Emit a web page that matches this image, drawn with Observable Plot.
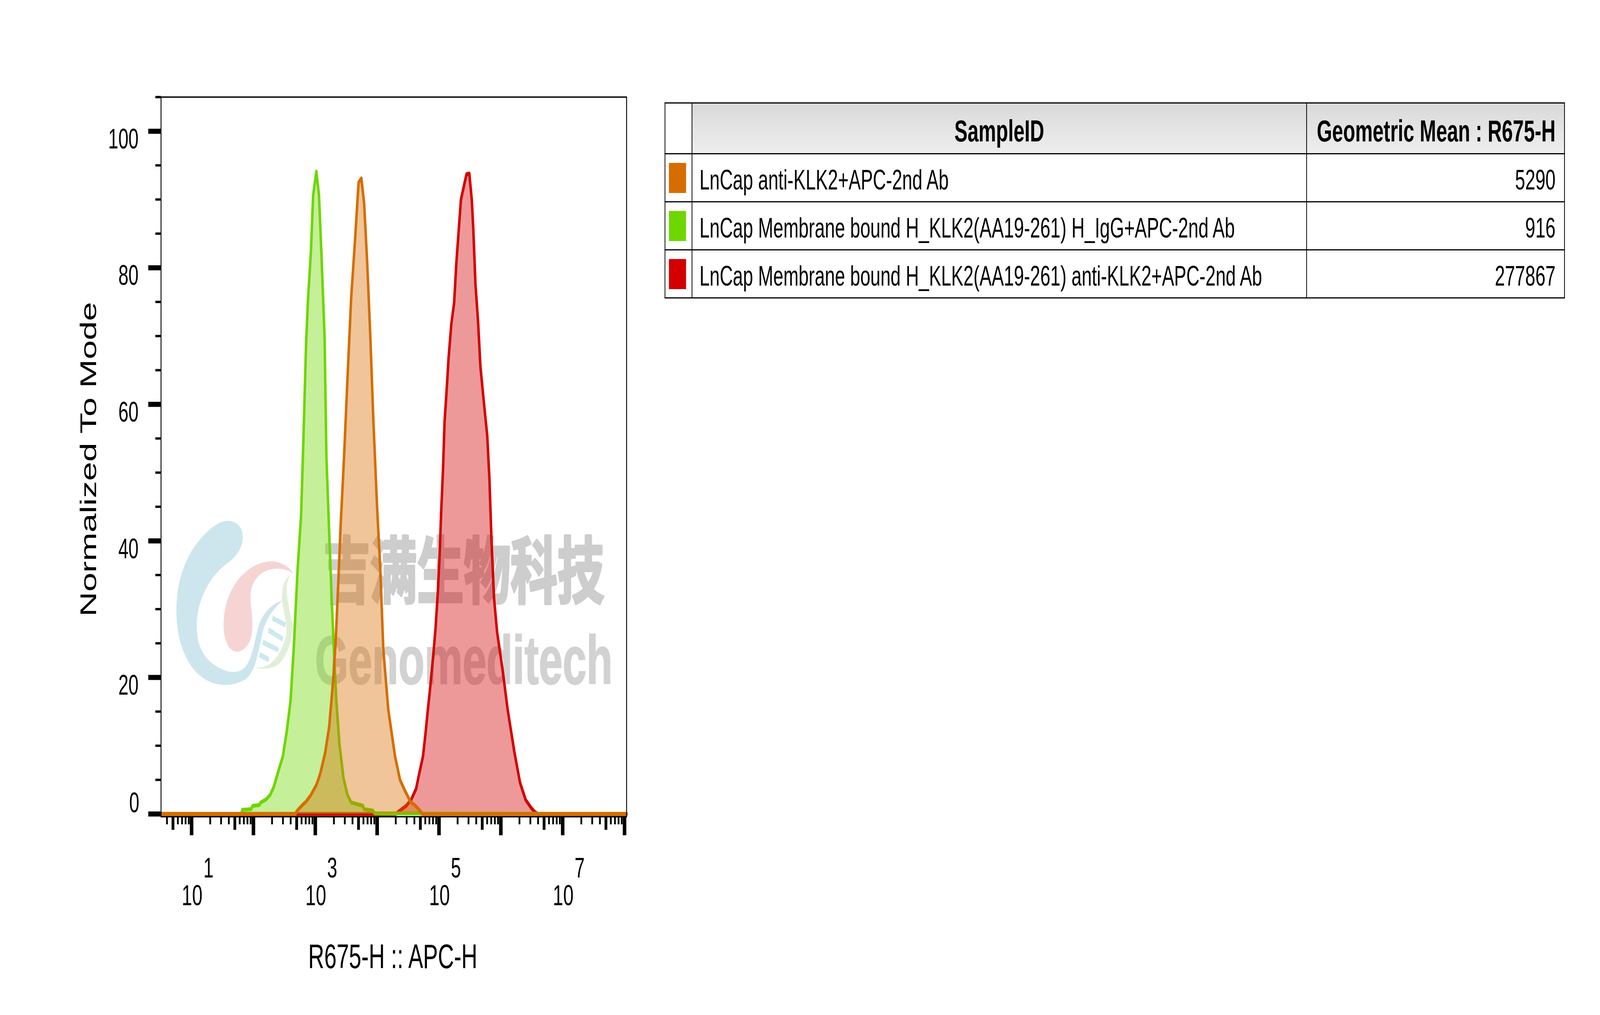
<!DOCTYPE html>
<html><head><meta charset="utf-8">
<script src="https://cdn.jsdelivr.net/npm/d3@7"></script>
<script src="https://cdn.jsdelivr.net/npm/@observablehq/plot@0.6"></script>
<style>
html,body{margin:0;padding:0;background:#fff;overflow:hidden;}
#root{position:absolute;left:0;top:0;width:6334px;height:2598px;overflow:hidden;background:#fff;font-family:"Liberation Sans",Arial,Helvetica,sans-serif;transform-origin:0 0;}
#wm{position:absolute;left:0;top:0;}
#chart{position:absolute;left:0;top:0;}
#chart svg{background:transparent;overflow:visible;}
#tbl{position:absolute;left:2631px;top:262px;border-collapse:collapse;table-layout:fixed;width:3561px;color:#000;}
#tbl th,#tbl td{border:3.5px solid #000;padding:0;}
#tbl thead tr{height:130px;}
#tbl tbody tr{height:123px;}
#tbl th{font-weight:bold;font-size:78px;background:linear-gradient(to bottom,#d9d9d9,#eeeeee);padding-top:14px;}
#tbl th.sw{background:#fff;}
#tbl th.gm{text-align:right;padding-right:34px;white-space:nowrap;}
#tbl td{font-size:72px;padding-top:10px;white-space:nowrap;}
#tbl td.sw{padding:0 0 0 14px;}
#tbl td.sid{padding-left:28px;}
#tbl td.gm{text-align:right;padding-right:34px;}
.swatch{width:68px;height:77px;}
</style>
</head><body>
<div id="root">
<svg id="wm" width="2600" height="2598" viewBox="0 0 2600 2598">
  <g transform="translate(680,1300) scale(0.3333)">
    <path fill="#cde6ee" d="M 660,100 C 760,95 850,150 843,230 C 835,320 760,380 650,430 C 430,540 300,720 297,900 C 295,1080 400,1180 600,1240 C 700,1270 800,1265 860,1230 C 940,1180 980,1050 1010,960 C 1060,810 1180,740 1315,710 C 1200,780 1110,860 1075,970 C 1020,1130 990,1260 880,1315 C 800,1345 720,1360 630,1360 C 300,1360 60,1130 55,800 C 50,560 170,380 300,270 C 420,170 560,100 660,100 Z"/>
    <path fill="#f6d4d4" d="M 1450,505 C 1350,460 1150,440 1020,530 C 920,600 930,690 945,780 C 965,900 970,1010 880,1070 C 820,1110 740,1120 680,1070 C 620,1010 610,930 617,860 C 630,700 740,560 900,480 C 1100,380 1320,390 1450,505 Z"/>
    <path fill="#e2efd8" d="M 1450,505 C 1380,520 1350,580 1375,700 C 1400,820 1430,850 1430,920 C 1430,1040 1360,1130 1300,1180 C 1230,1235 1130,1240 990,1230 C 1120,1225 1200,1200 1280,1110 C 1350,1030 1380,960 1350,850 C 1320,760 1300,700 1312,640 C 1325,560 1380,520 1450,505 Z"/>
    <path fill="#cce9f0" d="M1200,828 L1358,880 L1345,918 L1188,864 Z M1155,918 L1326,990 L1312,1026 L1141,956 Z M1087,1012 L1272,1074 L1260,1110 L1075,1050 Z M1047,1108 L1160,1146 L1148,1185 L1035,1146 Z"/>
  </g>
  <text x="1280" y="1529" font-family="Noto Sans CJK SC" font-weight="bold" font-size="185" fill="#cdcdcd" stroke="#cdcdcd" stroke-width="7" stroke-linejoin="round" textLength="1112" lengthAdjust="spacingAndGlyphs">吉满生物科技</text>
  <text x="1247" y="1750" font-family="Liberation Sans, Arial" font-weight="bold" font-size="175" fill="#d2d2d2" stroke="#d2d2d2" stroke-width="3" textLength="1178" lengthAdjust="spacingAndGlyphs">Genomeditech</text>
</svg>
<div id="chart"></div>
<table id="tbl"></table>
</div>
<script>
// ---------- data ----------
const sampleIds = [
  "LnCap anti-KLK2+APC-2nd Ab",
  "LnCap Membrane bound H_KLK2(AA19-261) H_IgG+APC-2nd Ab",
  "LnCap Membrane bound H_KLK2(AA19-261) anti-KLK2+APC-2nd Ab"
];
const geoMeans = [5290, 916, 277867];
const seriesColors = ["#d66d00", "#6ed600", "#d40000"];
const tableHeaders = ["SampleID", "Geometric Mean : R675-H"];

// log10(R675-H) positions and "Normalized To Mode" values
const orangeLog = [0.506, 2.68, 2.70, 2.78, 2.85, 2.93, 3.02, 3.08, 3.16, 3.225, 3.29, 3.33, 3.37, 3.41, 3.465, 3.52, 3.58, 3.64, 3.70, 3.745, 3.79, 3.84, 3.89, 3.94, 4.00, 4.05, 4.10, 4.18, 4.29, 4.37, 4.45, 4.54, 4.62, 4.70, 4.73, 8.033];
const orangeY   = [0, 0, 0.4, 1.2, 1.8, 2.8, 4.3, 5.9, 9.0, 12.8, 19.7, 25.4, 33.5, 42.3, 52.3, 63.7, 75.6, 83.7, 92.5, 93.1, 89.4, 80.6, 69.9, 57.4, 44.8, 36.0, 24.1, 15.3, 8.4, 5.0, 3.4, 1.8, 1.2, 0.4, 0, 0];

const greenLog = [0.506, 1.80, 1.82, 1.96, 1.99, 2.09, 2.12, 2.20, 2.27, 2.33, 2.41, 2.475, 2.54, 2.60, 2.65, 2.715, 2.77, 2.81, 2.85, 2.88, 2.93, 2.965, 3.017, 3.06, 3.10, 3.15, 3.18, 3.225, 3.27, 3.31, 3.34, 3.39, 3.455, 3.52, 3.58, 3.77, 3.79, 3.93, 3.96, 8.033];
const greenY   = [0, 0, 0.6, 0.7, 1.2, 1.3, 1.7, 2.1, 2.8, 4.0, 6.5, 8.4, 12.2, 16.6, 24.0, 36.0, 43.6, 55.5, 68.6, 75.0, 82.5, 90.6, 94.1, 90.6, 81.9, 69.9, 52.3, 41.1, 30.4, 22.2, 16.6, 10.3, 5.3, 2.8, 1.7, 1.2, 0.7, 0.5, 0.1, 0];

const redLog = [0.506, 4.30, 4.34, 4.47, 4.55, 4.63, 4.68, 4.74, 4.78, 4.82, 4.85, 4.91, 4.945, 4.98, 5.01, 5.035, 5.065, 5.09, 5.13, 5.155, 5.20, 5.245, 5.28, 5.33, 5.355, 5.445, 5.49, 5.53, 5.555, 5.59, 5.63, 5.67, 5.73, 5.78, 5.815, 5.85, 5.89, 5.94, 6.03, 6.11, 6.22, 6.31, 6.40, 6.49, 6.55, 6.60, 8.033];
const redY   = [0, 0, 0.3, 1.2, 2.1, 3.7, 5.9, 8.4, 11.6, 15.3, 17.8, 23.5, 27.3, 32.3, 37.9, 44.2, 50.5, 57.4, 63.0, 66.8, 71.8, 74.9, 80.6, 86.9, 90.0, 93.7, 93.8, 90.0, 85.6, 77.5, 72.4, 65.5, 59.9, 55.4, 49.2, 39.8, 31.6, 26.6, 21.0, 15.3, 9.0, 4.6, 2.1, 0.9, 0.3, 0, 0];

const xDomainLog = [0.506, 8.033];
const yDomain = [-0.4, 105];
const yMajorTicks = [20, 40, 60, 80, 100];
const yZeroTick = [0];
const yMinorTicks = [5, 10, 15, 25, 30, 35, 45, 50, 55, 65, 70, 75, 85, 90, 95, 105];
const xLabelExps = [1, 3, 5, 7];
const xTitle = "R675-H :: APC-H";
const yTitle = "Normalized To Mode";

// ---------- build ----------
const toRows = (logs, ys) => logs.map((e, i) => ({x: Math.pow(10, e), y: ys[i]}));
const orange = toRows(orangeLog, orangeY);
const green = toRows(greenLog, greenY);
const red = toRows(redLog, redY);

const xMin = Math.pow(10, xDomainLog[0]), xMax = Math.pow(10, xDomainLog[1]);
const xMajor = [], xMid = [], xMinor = [];
for (let n = 0; n <= 8; n++) {
  for (let k = 1; k <= 9; k++) {
    const v = k * Math.pow(10, n);
    if (v < xMin || v > xMax * 1.0001) continue;
    if (k === 1) xMajor.push(v); else if (k === 5) xMid.push(v); else xMinor.push(v);
  }
}

const seriesMarks = (rows, color) => [
  Plot.areaY(rows, {x: "x", y: "y", fill: color, fillOpacity: 0.4, curve: "linear"}),
  Plot.line(rows, {x: "x", y: "y", stroke: color, strokeWidth: 10, strokeLinejoin: "round", curve: "linear"})
];

const chart = Plot.plot({
  width: 2600,
  height: 2598,
  marginLeft: 637,
  marginRight: 120,
  marginTop: 248,
  marginBottom: 508,
  style: {fontFamily: "Liberation Sans, Arial, Helvetica, sans-serif", fontSize: "72px", background: "transparent", color: "#000", overflow: "visible"},
  x: {type: "log", domain: [xMin, xMax]},
  y: {domain: yDomain},
  marks: [
    ...seriesMarks(red, seriesColors[2]),
    ...seriesMarks(green, seriesColors[1]),
    ...seriesMarks(orange, seriesColors[0]),
    Plot.frame({stroke: "#000", strokeWidth: 3.5}),
    Plot.axisY({ticks: yMinorTicks, tickSize: 22, strokeWidth: 6, fill: "none", label: null}),
    Plot.axisY({ticks: [...yZeroTick, ...yMajorTicks], tickSize: 50, strokeWidth: 13, fill: "none", label: null}),
    Plot.axisY({ticks: yMajorTicks, tickSize: 0, tickPadding: 89, dy: 21, fontSize: 72, label: null}),
    Plot.axisY({ticks: yZeroTick, tickSize: 0, tickPadding: 86, dy: -28, fontSize: 72, label: null}),
    Plot.axisX({ticks: xMinor, tickSize: 20, strokeWidth: 7, fill: "none", label: null}),
    Plot.axisX({ticks: xMid, tickSize: 34, strokeWidth: 11, fill: "none", label: null}),
    Plot.axisX({ticks: xMajor, tickSize: 48, strokeWidth: 14, fill: "none", label: null}),
    Plot.text(xLabelExps, {x: e => Math.pow(10, e), text: () => "10", frameAnchor: "bottom", lineAnchor: "middle", dy: 203, dx: 2, fontSize: 74, fill: "#000"}),
    Plot.text(xLabelExps, {x: e => Math.pow(10, e), text: e => String(e), frameAnchor: "bottom", lineAnchor: "middle", dy: 132, dx: 47, textAnchor: "start", fontSize: 72, fill: "#000"}),
    Plot.text([xTitle], {frameAnchor: "bottom", lineAnchor: "middle", textAnchor: "middle", dy: 359, dx: -4, fontSize: 88, fill: "#000"}),
    Plot.text([yTitle], {frameAnchor: "left", lineAnchor: "middle", textAnchor: "middle", rotate: -90, dx: -285, dy: 6, fontSize: 88, fill: "#000"})
  ]
});
document.getElementById("chart").appendChild(chart);

// ---------- table ----------
const tbl = document.getElementById("tbl");
const colgroup = document.createElement("colgroup");
[107, 2433, 1021].forEach(w => { const c = document.createElement("col"); c.style.width = w + "px"; colgroup.appendChild(c); });
tbl.appendChild(colgroup);
const thead = document.createElement("thead");
const hr = document.createElement("tr");
const h0 = document.createElement("th"); h0.className = "sw"; hr.appendChild(h0);
const h1 = document.createElement("th"); h1.className = "sid"; h1.textContent = tableHeaders[0]; hr.appendChild(h1);
const h2 = document.createElement("th"); h2.className = "gm"; h2.textContent = tableHeaders[1]; hr.appendChild(h2);
thead.appendChild(hr); tbl.appendChild(thead);
const tbody = document.createElement("tbody");
sampleIds.forEach((s, i) => {
  const tr = document.createElement("tr");
  const c0 = document.createElement("td"); c0.className = "sw";
  const sw = document.createElement("div"); sw.className = "swatch"; sw.style.background = seriesColors[i]; c0.appendChild(sw);
  const c1 = document.createElement("td"); c1.className = "sid"; c1.textContent = s;
  const c2 = document.createElement("td"); c2.className = "gm"; c2.textContent = String(geoMeans[i]);
  tr.appendChild(c0); tr.appendChild(c1); tr.appendChild(c2);
  tbody.appendChild(tr);
});
tbl.appendChild(tbody);

// the window may be narrower than the 6334x2598 design: fit the whole page into it
function fit() {
  const sx = Math.min(1, window.innerWidth / 6334), sy = Math.min(1, window.innerHeight / 2598);
  document.getElementById("root").style.transform = (sx === 1 && sy === 1) ? "" : `scale(${sx},${sy})`;
}
fit();
window.addEventListener("resize", fit);
</script>
</body></html>
